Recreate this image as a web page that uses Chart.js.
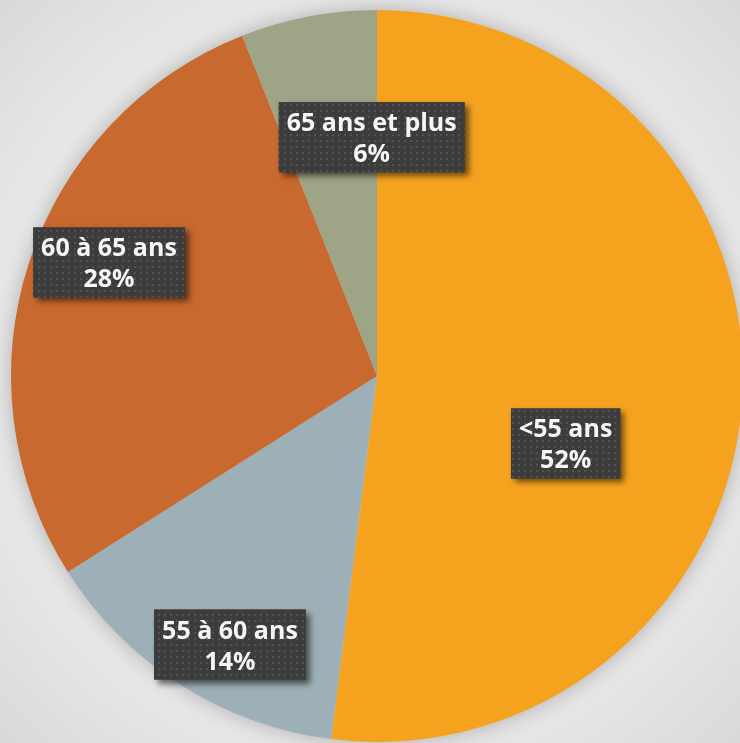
<!DOCTYPE html>
<html>
<head>
<meta charset="utf-8">
<script src="https://cdn.jsdelivr.net/npm/chart.js@4.4.1/dist/chart.umd.min.js"></script>
<style>
  html, body { margin: 0; padding: 0; overflow: hidden; width: 740px; height: 743px; }
  body { background: radial-gradient(ellipse at 50% 50%, #f3f3f3 45%, #e6e6e6 75%, #d9d9d9 100%); }
  #wrap { position: absolute; left: 0; top: 0; width: 754px; height: 752px; }
</style>
</head>
<body>
<div id="wrap"><canvas id="pie" width="754" height="752"></canvas></div>
<script>
const categories = ['<55 ans', '55 à 60 ans', '60 à 65 ans', '65 ans et plus'];
const shares = [52, 14, 28, 6];
const sliceColors = ['#F5A31F', '#9EB0B7', '#C8692F', '#9EA586'];
// nudges from each slice's centre point to where the label box sits
const labelNudge = [[6, 56], [-49, 114], [-94, -57], [29, -59]];

function dotPattern(ctx) {
  const c = document.createElement('canvas');
  c.width = 6; c.height = 6;
  const g = c.getContext('2d');
  g.fillStyle = '#3c3c3c';
  g.fillRect(0, 0, 6, 6);
  g.fillStyle = '#525252';
  g.fillRect(2, 2, 2, 2);
  return ctx.createPattern(c, 'repeat');
}

const pieShadow = {
  id: 'pieShadow',
  beforeDatasetsDraw(chart) {
    const arc = chart.getDatasetMeta(0).data[0];
    if (!arc) return;
    const ctx = chart.ctx;
    ctx.save();
    ctx.shadowColor = 'rgba(0,0,0,0.28)';
    ctx.shadowBlur = 22;
    ctx.fillStyle = '#cccccc';
    ctx.beginPath();
    ctx.arc(arc.x, arc.y, arc.outerRadius - 1, 0, Math.PI * 2);
    ctx.fill();
    ctx.restore();
  }
};

const boxLabels = {
  id: 'boxLabels',
  afterDatasetsDraw(chart) {
    const ctx = chart.ctx;
    const pattern = dotPattern(ctx);
    ctx.save();
    ctx.font = 'bold 25px "Open Sans"';
    chart.getDatasetMeta(0).data.forEach((arc, i) => {
      const p = arc.getCenterPoint();
      const x = p.x + labelNudge[i][0];
      const y = p.y + labelNudge[i][1];
      const line1 = categories[i];
      const line2 = shares[i] + '%';
      const w = Math.max(ctx.measureText(line1).width, ctx.measureText(line2).width) + 16;
      const h = 70;
      ctx.save();
      ctx.shadowColor = 'rgba(0,0,0,0.55)';
      ctx.shadowBlur = 6;
      ctx.shadowOffsetX = 4;
      ctx.shadowOffsetY = 4;
      ctx.fillStyle = '#3c3c3c';
      ctx.fillRect(x - w / 2, y - h / 2, w, h);
      ctx.restore();
      ctx.fillStyle = pattern;
      ctx.fillRect(x - w / 2, y - h / 2, w, h);
      ctx.fillStyle = '#f5f5f5';
      ctx.textAlign = 'center';
      ctx.textBaseline = 'alphabetic';
      ctx.fillText(line1, x, y - h / 2 + 29);
      ctx.fillText(line2, x, y - h / 2 + 60);
    });
    ctx.restore();
  }
};

new Chart(document.getElementById('pie'), {
  type: 'pie',
  data: {
    labels: categories,
    datasets: [{
      data: shares,
      backgroundColor: sliceColors,
      borderWidth: 0,
      hoverOffset: 0
    }]
  },
  options: {
    responsive: false,
    animation: false,
    layout: { padding: { left: 10, right: 10, top: 10, bottom: 10 } },
    plugins: {
      legend: { display: false },
      tooltip: { enabled: false }
    }
  },
  plugins: [pieShadow, boxLabels]
});
</script>
</body>
</html>
